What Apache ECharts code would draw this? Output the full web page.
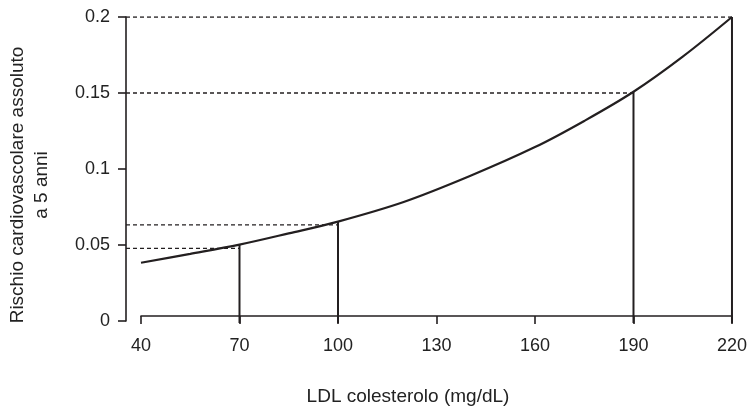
<!DOCTYPE html>
<html>
<head>
<meta charset="utf-8">
<script src="https://cdn.jsdelivr.net/npm/echarts@6/dist/echarts.min.js"></script>
<style>
  html, body { margin: 0; padding: 0; background: #fff; }
  #chart { width: 750px; height: 411px; }
</style>
</head>
<body>
<div id="chart"></div>
<script>
// curve: LDL (mg/dL) vs 5-year absolute cardiovascular risk
var ldl  = [40, 55, 70, 85, 100, 120, 140, 160, 175, 190, 205, 220];
var risk = [0.0357, 0.0416, 0.0478, 0.0553, 0.0632, 0.0763, 0.0935, 0.113, 0.1305, 0.15, 0.1735, 0.2];

// reference points marked on the curve
var markLdl  = [70, 100, 190, 220];
var markRisk = [0.0478, 0.0632, 0.15, 0.2];

var xTicks = [40, 70, 100, 130, 160, 190, 220];
var yTicks = [0, 0.05, 0.1, 0.15, 0.2];

var INK = '#231f20';
var FONT = 'Liberation Sans, Arial, Helvetica, sans-serif';

// y axis sits left of the x axis start, x axis sits a bit below y = 0
var X_LEFT = 40 - (141 - 126) * 180 / 592;
var Y_FLOOR = -0.2 * (328 - 321) / (321 - 17);

var curve = ldl.map(function (v, i) { return [v, risk[i]]; });

var series = [];

// dashed guides from the y axis to the curve
markLdl.forEach(function (v, i) {
    series.push({
        type: 'line', xAxisIndex: 0, yAxisIndex: 0,
        symbol: 'none', silent: true,
        lineStyle: { color: INK, width: 1.3, type: [4, 3] },
        data: [[X_LEFT, markRisk[i]], [v, markRisk[i]]]
    });
});

// solid drop lines from the curve to the x axis
markLdl.forEach(function (v, i) {
    series.push({
        type: 'line', xAxisIndex: 1, yAxisIndex: 1,
        symbol: 'none', silent: true,
        lineStyle: { color: INK, width: 2 },
        data: [[v, Y_FLOOR], [v, markRisk[i]]]
    });
});

series.push({
    type: 'line', xAxisIndex: 1, yAxisIndex: 1,
    symbol: 'none', smooth: 0.35,
    lineStyle: { color: INK, width: 2.2 },
    data: curve
});

var chart = echarts.init(document.getElementById('chart'));
chart.setOption({
    animation: false,
    backgroundColor: '#fff',
    textStyle: { fontFamily: FONT },
    grid: [
        { left: 126, right: 17, top: 17, bottom: 90 },
        { left: 141, right: 17, top: 17, bottom: 83 }
    ],
    xAxis: [
        { type: 'value', gridIndex: 0, min: X_LEFT, max: 220, show: false },
        {
            type: 'value', gridIndex: 1, min: xTicks[0], max: xTicks[xTicks.length - 1], interval: 30,
            name: 'LDL colesterolo (mg/dL)', nameLocation: 'middle', nameGap: 64,
            nameTextStyle: { color: '#222', fontSize: 19, fontFamily: FONT, padding: [0, 57, 0, 0] },
            axisLine: { show: true, lineStyle: { color: INK, width: 1.6 } },
            axisTick: { show: true, length: 8, lineStyle: { color: INK, width: 1.6 } },
            axisLabel: { color: '#222', fontSize: 18, fontFamily: FONT, margin: 14 },
            splitLine: { show: false }
        }
    ],
    yAxis: [
        {
            type: 'value', gridIndex: 0, min: yTicks[0], max: yTicks[yTicks.length - 1], interval: 0.05,
            axisLine: { show: true, lineStyle: { color: INK, width: 1.6 } },
            axisTick: { show: true, length: 8, lineStyle: { color: INK, width: 1.6 } },
            axisLabel: { color: '#222', fontSize: 18, fontFamily: FONT, margin: 16 },
            splitLine: { show: false }
        },
        { type: 'value', gridIndex: 1, min: Y_FLOOR, max: 0.2, show: false }
    ],
    graphic: [{
        type: 'text',
        x: 30, y: 185,
        rotation: Math.PI / 2,
        style: {
            text: 'Rischio cardiovascolare assoluto\na 5 anni',
            fill: '#222',
            font: '19px ' + FONT,
            align: 'center',
            verticalAlign: 'middle',
            lineHeight: 24
        }
    }],
    series: series
});
</script>
</body>
</html>
